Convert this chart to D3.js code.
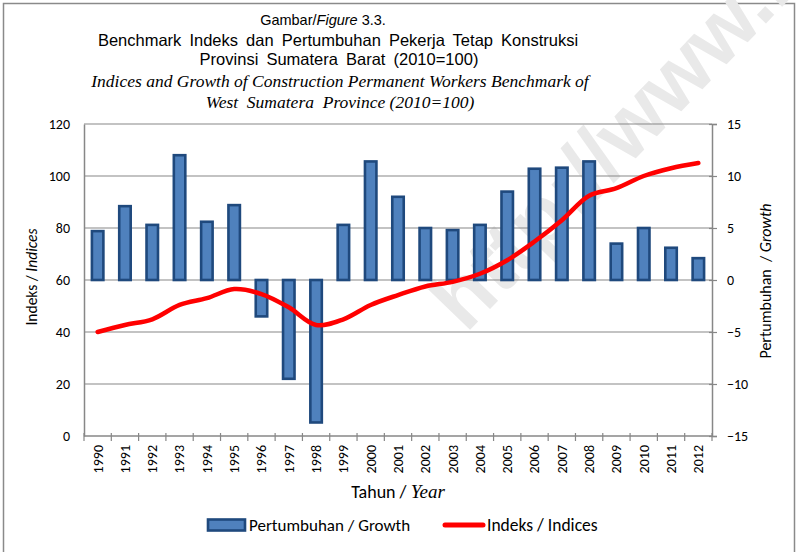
<!DOCTYPE html>
<meta charset="utf-8">
<style>
  body { margin: 0; background: #fff; }
  svg text { fill: #000; white-space: pre; }
  .tick-lbl { font-family: Carlito, Lato, "Open Sans", sans-serif; font-size: 14px; }
  .ttl-sans { font-family: "Liberation Sans", Arial, sans-serif; }
  .ttl-serif { font-family: "Liberation Serif", "Times New Roman", serif; font-style: italic; }
</style>
<svg width="796" height="552"></svg>
<script src="https://cdn.jsdelivr.net/npm/d3@7"></script>
<script>
  // data
  var years = ["1990","1991","1992","1993","1994","1995","1996","1997","1998","1999","2000",
               "2001","2002","2003","2004","2005","2006","2007","2008","2009","2010","2011","2012"];
  var growth = [4.7, 7.1, 5.3, 12.0, 5.6, 7.2, -3.5, -9.5, -13.7, 5.3, 11.4,
                8.0, 5.0, 4.8, 5.3, 8.5, 10.7, 10.8, 11.4, 3.5, 5.0, 3.1, 2.1];
  var indices = [40.0, 42.7, 44.9, 50.4, 53.0, 56.5, 54.6, 49.5, 42.7, 44.9, 50.4,
                 54.2, 57.5, 59.3, 62.4, 67.6, 74.8, 83.0, 92.4, 95.3, 100.0, 103.0, 105.0];
  var leftTicks = [0, 20, 40, 60, 80, 100, 120];
  var rightTicks = [-15, -10, -5, 0, 5, 10, 15];

  var svg = d3.select("svg");
  var pL = 84, pR = 712, pT = 124, pB = 436;
  var grey = "#878787";

  var x = d3.scaleBand().domain(years).range([pL, pR]).padding(0);
  var yL = d3.scaleLinear().domain([0, 120]).range([pB, pT]);
  var yR = d3.scaleLinear().domain([-15, 15]).range([pB, pT]);
  var bw = x.bandwidth();
  var barW = bw * 0.42;

  // outer frame
  svg.append("rect")
    .attr("x", 3.5).attr("y", 3.5).attr("width", 791).attr("height", 620)
    .attr("fill", "none").attr("stroke", "#8a8a8a").attr("stroke-width", 1.5);

  // faint watermark
  svg.append("text")
    .attr("transform", "translate(466,334) rotate(-46)")
    .attr("font-family", "Liberation Sans, Arial, sans-serif")
    .attr("font-weight", "bold")
    .attr("font-size", 84)
    .style("fill", "#e9e9e9")
    .text("http://www.bps.go.id");

  // titles
  var t1 = svg.append("text").attr("class", "ttl-sans").attr("x", 323).attr("y", 25)
    .attr("text-anchor", "middle").style("font-size", "14.5px");
  t1.append("tspan").text("Gambar/");
  t1.append("tspan").attr("font-style", "italic").text("Figure");
  t1.append("tspan").text(" 3.3.");
  svg.append("text").attr("class", "ttl-sans").attr("x", 338).attr("y", 46)
    .attr("text-anchor", "middle").style("font-size", "16.5px").style("word-spacing", "3.5px")
    .text("Benchmark Indeks dan Pertumbuhan Pekerja Tetap Konstruksi");
  svg.append("text").attr("class", "ttl-sans").attr("x", 339).attr("y", 65)
    .attr("text-anchor", "middle").style("font-size", "16.5px").style("word-spacing", "3.5px")
    .text("Provinsi Sumatera Barat (2010=100)");
  svg.append("text").attr("class", "ttl-serif").attr("x", 340).attr("y", 87)
    .attr("text-anchor", "middle").style("font-size", "17.5px")
    .text("Indices and Growth of Construction Permanent Workers Benchmark of");
  svg.append("text").attr("class", "ttl-serif").attr("x", 340).attr("y", 108)
    .attr("text-anchor", "middle").style("font-size", "17.5px")
    .text("West  Sumatera  Province (2010=100)");

  // gridlines
  svg.append("g").selectAll("line")
    .data(leftTicks.filter(function(d) { return d > 0; }))
    .enter().append("line")
    .attr("x1", pL).attr("x2", pR)
    .attr("y1", function(d) { return yL(d); })
    .attr("y2", function(d) { return yL(d); })
    .attr("stroke", grey).attr("stroke-width", 1.2);

  // left axis
  var axL = svg.append("g").attr("transform", "translate(" + pL + ",0)")
    .call(d3.axisLeft(yL).tickValues(leftTicks).tickSize(0).tickPadding(14));
  axL.select(".domain").attr("stroke", grey).attr("stroke-width", 1.5);
  axL.selectAll("text").attr("class", "tick-lbl").attr("font-size", null).attr("font-family", null);

  // right axis
  var axR = svg.append("g").attr("transform", "translate(" + pR + ",0)")
    .call(d3.axisRight(yR).tickValues(rightTicks).tickSize(5).tickPadding(10));
  axR.select(".domain").attr("stroke", grey).attr("stroke-width", 1.5);
  axR.selectAll(".tick line").attr("stroke", grey).attr("stroke-width", 1.2).attr("x1", -3);
  axR.selectAll("text").attr("class", "tick-lbl").attr("font-size", null).attr("font-family", null);

  // bottom axis line + category ticks
  svg.append("line").attr("x1", pL).attr("x2", pR).attr("y1", pB).attr("y2", pB)
    .attr("stroke", grey).attr("stroke-width", 1.5);
  svg.append("g").selectAll("line")
    .data(years.concat(["end"]))
    .enter().append("line")
    .attr("x1", function(d, i) { return pL + i * bw; })
    .attr("x2", function(d, i) { return pL + i * bw; })
    .attr("y1", pB - 3).attr("y2", pB + 5)
    .attr("stroke", grey).attr("stroke-width", 1.2);

  svg.append("g").selectAll("text")
    .data(years)
    .enter().append("text")
    .attr("class", "tick-lbl")
    .attr("transform", function(d) {
      return "translate(" + (x(d) + bw / 2) + "," + (pB + 9) + ") rotate(-90)";
    })
    .attr("text-anchor", "end")
    .attr("dy", "0.35em")
    .text(function(d) { return d; });

  // growth bars (right axis)
  svg.append("g").selectAll("rect")
    .data(growth)
    .enter().append("rect")
    .attr("x", function(d, i) { return x(years[i]) + (bw - barW) / 2; })
    .attr("y", function(d) { return yR(Math.max(0, d)); })
    .attr("width", barW)
    .attr("height", function(d) { return Math.abs(yR(d) - yR(0)); })
    .attr("fill", "#4f81bd")
    .attr("stroke", "#1f497d")
    .attr("stroke-width", 2.6);

  // index line (left axis)
  var line = d3.line()
    .x(function(d, i) { return x(years[i]) + bw / 2; })
    .y(function(d) { return yL(d); })
    .curve(d3.curveCatmullRom);
  svg.append("path")
    .datum(indices)
    .attr("d", line)
    .attr("fill", "none")
    .attr("stroke", "#ff0000")
    .attr("stroke-width", 4.5)
    .attr("stroke-linecap", "round")
    .attr("stroke-linejoin", "round");

  // axis titles
  var lt = svg.append("text").attr("class", "tick-lbl")
    .attr("transform", "translate(37,277) rotate(-90)")
    .attr("text-anchor", "middle").style("font-size", "15.5px");
  lt.append("tspan").text("Indeks / ");
  lt.append("tspan").attr("font-style", "italic").text("Indices");

  var rt = svg.append("text").attr("class", "tick-lbl")
    .attr("transform", "translate(771,281) rotate(-90)")
    .attr("text-anchor", "middle").style("font-size", "16px");
  rt.append("tspan").text("Pertumbuhan  / ");
  rt.append("tspan").attr("font-style", "italic").text("Growth");

  var xt = svg.append("text").attr("x", 398).attr("y", 498).attr("text-anchor", "middle");
  xt.append("tspan").attr("class", "tick-lbl").style("font-size", "18px").text("Tahun / ");
  xt.append("tspan").attr("class", "ttl-serif").style("font-size", "19px").text("Year");

  // legend
  var lg = svg.append("g");
  lg.append("rect").attr("x", 208).attr("y", 519.5).attr("width", 37).attr("height", 11)
    .attr("fill", "#4f81bd").attr("stroke", "#1f497d").attr("stroke-width", 2.6);
  lg.append("text").attr("class", "tick-lbl").attr("x", 249).attr("y", 525)
    .attr("dy", "0.35em").style("font-size", "17px").text("Pertumbuhan / Growth");
  lg.append("line").attr("x1", 445).attr("x2", 483).attr("y1", 525).attr("y2", 525)
    .attr("stroke", "#ff0000").attr("stroke-width", 5).attr("stroke-linecap", "round");
  lg.append("text").attr("class", "tick-lbl").attr("x", 487).attr("y", 525)
    .attr("dy", "0.35em").style("font-size", "17.5px").text("Indeks / Indices");
</script>
